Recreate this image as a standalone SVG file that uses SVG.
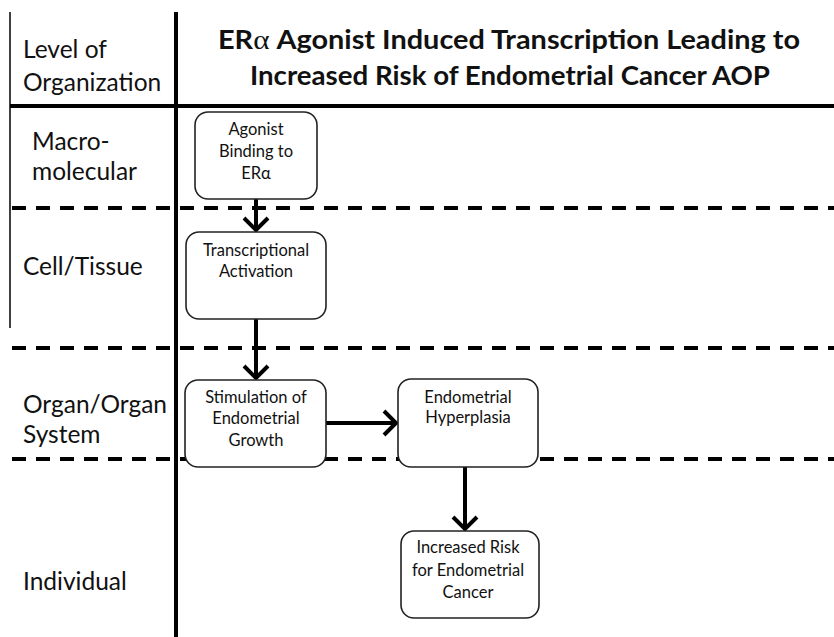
<svg xmlns="http://www.w3.org/2000/svg" width="834" height="637" viewBox="0 0 834 637">
<style>
.lvl{font-family:Lato,"Liberation Sans",sans-serif;font-size:24.5px;fill:#111}
.ttl{font-family:Lato,"Liberation Sans",sans-serif;font-size:26px;font-weight:bold;fill:#111}
.nt{font-family:Lato,"Liberation Sans",sans-serif;font-size:16.5px;fill:#111;text-anchor:middle}
.box{fill:#fff;stroke:#222;stroke-width:1.6}
.dash{stroke:#000;stroke-width:4;stroke-dasharray:14 10}
.conn{stroke:#000;stroke-width:4;fill:none}
</style>
<defs>
<marker id="chev" markerUnits="userSpaceOnUse" viewBox="-16 -16 20 32" markerWidth="20" markerHeight="32" refX="0" refY="0" orient="auto" overflow="visible">
<path d="M-12,-12 L0,0 L-12,12" fill="none" stroke="#000" stroke-width="4"/>
</marker>
</defs>
<rect width="834" height="637" fill="#fff"/>
<g id="grid">
<line x1="10" y1="12" x2="10" y2="328" stroke="#000" stroke-width="1.5"/>
<line x1="176" y1="12" x2="176" y2="637" stroke="#000" stroke-width="4"/>
<line x1="10" y1="106" x2="834" y2="106" stroke="#000" stroke-width="4"/>
<line class="dash" x1="12" y1="208" x2="834" y2="208"/>
<line class="dash" x1="12" y1="348" x2="834" y2="348"/>
<line class="dash" x1="12" y1="459" x2="834" y2="459"/>
</g>
<g id="labels">
<text class="lvl" x="23" y="58">Level of</text>
<text class="lvl" x="23" y="91">Organization</text>
<text class="lvl" x="32" y="150">Macro-</text>
<text class="lvl" x="32" y="180">molecular</text>
<text class="lvl" x="23" y="275">Cell/Tissue</text>
<text class="lvl" x="23" y="413">Organ/Organ</text>
<text class="lvl" x="23" y="443">System</text>
<text class="lvl" x="23" y="590">Individual</text>
</g>
<g id="title">
<text class="ttl" x="218" y="49" textLength="582" lengthAdjust="spacingAndGlyphs">ER<tspan font-family="'Liberation Serif',serif" font-weight="normal" font-size="28px">α</tspan> Agonist Induced Transcription Leading to</text>
<text class="ttl" x="250" y="85" textLength="520" lengthAdjust="spacingAndGlyphs">Increased Risk of Endometrial Cancer AOP</text>
</g>
<g id="connectors">
<line class="conn" x1="256" y1="199" x2="256" y2="230" marker-end="url(#chev)"/>
<line class="conn" x1="256" y1="319" x2="256" y2="378" marker-end="url(#chev)"/>
<line class="conn" x1="326" y1="423" x2="396" y2="423" marker-end="url(#chev)"/>
<line class="conn" x1="465" y1="467" x2="465" y2="529" marker-end="url(#chev)"/>
</g>
<g id="n1">
<rect class="box" x="195" y="112" width="122" height="87" rx="13"/>
<text class="nt" x="256" y="135">Agonist</text>
<text class="nt" x="256" y="157">Binding to</text>
<text class="nt" x="256" y="179">ERα</text>
</g>
<g id="n2">
<rect class="box" x="186" y="232" width="140" height="87" rx="13"/>
<text class="nt" x="256" y="256">Transcriptional</text>
<text class="nt" x="256" y="277">Activation</text>
</g>
<g id="n3">
<rect class="box" x="185" y="380" width="141" height="87" rx="13"/>
<text class="nt" x="256" y="403">Stimulation of</text>
<text class="nt" x="256" y="424">Endometrial</text>
<text class="nt" x="256" y="446">Growth</text>
</g>
<g id="n4">
<rect class="box" x="398" y="379" width="140" height="88" rx="13"/>
<text class="nt" x="468" y="403">Endometrial</text>
<text class="nt" x="468" y="423">Hyperplasia</text>
</g>
<g id="n5">
<rect class="box" x="401" y="531" width="138" height="87" rx="13"/>
<text class="nt" x="468" y="553">Increased Risk</text>
<text class="nt" x="468" y="576">for Endometrial</text>
<text class="nt" x="468" y="598">Cancer</text>
</g>
</svg>
